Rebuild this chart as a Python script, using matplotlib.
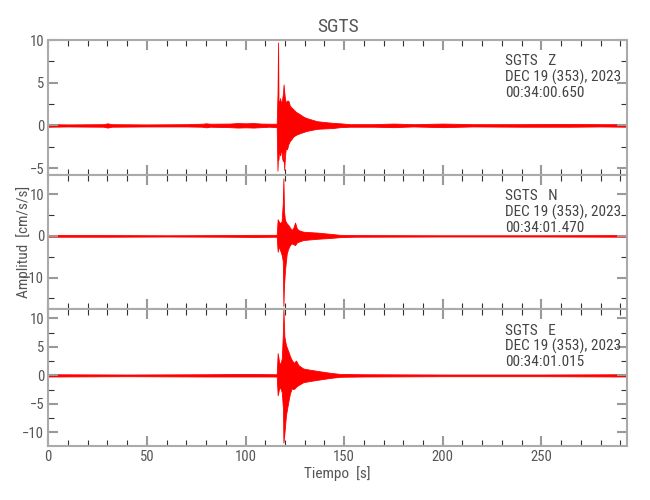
import matplotlib
matplotlib.use("Agg")
import matplotlib.pyplot as plt
import numpy as np
from matplotlib import font_manager
from matplotlib.ticker import MultipleLocator

# envelope of each trace: (time [s], min, max)
z_rows = [
    (0, -0.15, 0.15), (10, -0.12, 0.12), (28, -0.15, 0.15), (30, -0.25, 0.25),
    (32, -0.15, 0.15), (50, -0.12, 0.12), (70, -0.12, 0.15), (78, -0.15, 0.2),
    (80, -0.22, 0.25), (82, -0.15, 0.2), (92, -0.2, 0.22), (96, -0.25, 0.28),
    (100, -0.22, 0.25), (104, -0.25, 0.28), (108, -0.2, 0.22), (112, -0.15, 0.2),
    (115.8, -0.2, 0.2), (116.2, -5.3, 3.6), (116.5, -3.0, 9.7), (116.7, -4.0, 3.0),
    (117.0, -2.8, 2.5), (117.5, -3.5, 3.2), (118.0, -2.6, 2.6), (118.5, -3.8, 3.0),
    (119.0, -4.2, 3.8), (119.3, -2.8, 4.8), (119.6, -5.2, 4.0), (120.0, -3.6, 3.1),
    (120.5, -2.5, 2.6), (121.0, -2.8, 2.9), (121.7, -2.2, 2.9), (122.5, -1.8, 2.3),
    (123.3, -1.6, 2.1), (124.2, -1.3, 1.9), (125.5, -1.1, 1.6), (127.6, -0.9, 1.3),
    (129.5, -0.75, 1.0), (131.8, -0.6, 0.8), (134.0, -0.5, 0.65), (136.1, -0.4, 0.5),
    (140, -0.35, 0.4), (144.4, -0.3, 0.3), (148, -0.2, 0.25), (152.8, -0.15, 0.15),
    (165, -0.15, 0.15), (175, -0.2, 0.22), (185, -0.12, 0.15), (200, -0.2, 0.22),
    (215, -0.12, 0.15), (240, -0.15, 0.15), (265, -0.15, 0.18), (280, -0.12, 0.15),
    (293, -0.15, 0.15),
]
n_rows = [
    (0, -0.2, 0.2), (30, -0.2, 0.2), (60, -0.15, 0.15), (90, -0.2, 0.2),
    (105, -0.25, 0.25), (115.8, -0.2, 0.25), (116.3, -3.8, 4.0), (116.8, -2.5, 3.5),
    (117.5, -3.4, 3.0), (118.3, -4.5, 3.5), (118.9, -6.0, 8.0), (119.2, -16.8, 13.8),
    (119.5, -12.0, 6.0), (120.0, -8.2, 3.8), (120.9, -4.2, 3.0), (121.7, -3.0, 2.6),
    (122.5, -2.2, 2.0), (123.4, -1.8, 1.4), (124.3, -2.0, 2.0), (125.1, -2.2, 3.2),
    (126.0, -1.6, 1.8), (126.8, -1.4, 1.4), (129.3, -1.0, 1.0), (132.5, -0.85, 0.9),
    (136.1, -0.7, 0.8), (142.9, -0.5, 0.5), (148, -0.3, 0.25), (155, -0.2, 0.2),
    (200, -0.15, 0.15), (250, -0.15, 0.15), (293, -0.2, 0.2),
]
e_rows = [
    (0, -0.2, 0.2), (40, -0.15, 0.15), (80, -0.2, 0.2), (100, -0.2, 0.25),
    (115.8, -0.2, 0.2), (116.3, -3.5, 3.9), (116.9, -2.5, 2.6), (117.5, -2.0, 1.8),
    (118.4, -3.0, 3.0), (119.0, -6.0, 8.0), (119.2, -11.8, 11.6), (119.7, -10.2, 6.8),
    (120.5, -7.0, 5.3), (121.7, -4.6, 4.2), (122.5, -3.2, 3.4), (123.4, -2.3, 2.7),
    (124.5, -2.4, 2.2), (125.6, -2.0, 2.6), (126.8, -1.7, 1.8), (129.3, -1.2, 1.2),
    (132.5, -1.0, 1.0), (136.1, -0.8, 0.8), (142.9, -0.45, 0.45), (148, -0.25, 0.25),
    (160, -0.2, 0.2), (200, -0.15, 0.15), (250, -0.15, 0.15), (293, -0.2, 0.2),
]

components = ["Z", "N", "E"]
start_times = ["00:34:00.650", "00:34:01.470", "00:34:01.015"]
ylims = [(-5.8, 10), (-17.6, 14.6), (-12.4, 11.6)]
ymajor = [5, 10, 5]
station = "SGTS"
date_str = "DEC 19 (353), 2023"
t_end = 293.4


def pick_font():
    for name in ["Liberation Sans Narrow", "DejaVu Sans Condensed",
                 "Roboto Condensed", "Open Sans Condensed"]:
        try:
            font_manager.findfont(name, fallback_to_default=False)
            return name, True
        except Exception:
            pass
    return "DejaVu Sans", False


fam, narrow = pick_font()
plt.rcParams["font.family"] = [fam, "DejaVu Sans"]
sz = 1.0 if narrow else 0.82
grey_txt = "#555555"
frame = "#aaaaaa"

fig = plt.figure(figsize=(6.5, 5), dpi=100)
left, width = 0.0743, 0.8903
bounds = [(0.650, 0.920), (0.3814, 0.650), (0.108, 0.3814)]

for i, rows in enumerate([z_rows, n_rows, e_rows]):
    b, t = bounds[i]
    ax = fig.add_axes([left, b, width, t - b])
    arr = np.array(rows)
    tt, lo, hi = arr[:, 0], arr[:, 1], arr[:, 2]
    ax.fill_between(tt, lo, hi, color="red", lw=0.6, edgecolor="red")

    ax.set_xlim(0, t_end)
    ax.set_ylim(*ylims[i])
    ax.xaxis.set_major_locator(MultipleLocator(50))
    ax.xaxis.set_minor_locator(MultipleLocator(10))
    ax.yaxis.set_major_locator(MultipleLocator(ymajor[i]))
    ax.yaxis.set_minor_locator(MultipleLocator(ymajor[i] / 2))
    ax.tick_params(which="both", direction="in", top=True, right=True,
                   labelsize=10.5 * sz, labelcolor=grey_txt, pad=3)
    ax.tick_params(which="major", length=7, width=1.5, color="#999999")
    ax.tick_params(which="minor", length=4, width=0.8, color="#333333")
    for s in ax.spines.values():
        s.set_color(frame)
        s.set_linewidth(1.5)
    if i < 2:
        ax.tick_params(labelbottom=False)
    else:
        ax.set_xlabel("Tiempo  [s]", color=grey_txt, fontsize=11 * sz, labelpad=1)
    if i == 1:
        ax.set_ylabel("Amplitud  [cm/s/s]", color=grey_txt, fontsize=11 * sz)
        ax.yaxis.set_label_coords(-0.03, 0.5)
    if i == 0:
        ax.set_title(station, color=grey_txt, fontsize=14 * sz, pad=6)

    label = f"{station}   {components[i]}\n{date_str}\n{start_times[i]}"
    ax.text(0.790, 0.895, label, transform=ax.transAxes, va="top", ha="left",
            fontsize=11 * sz, color="#444444", linespacing=1.1)

fig.savefig("out.png", dpi=100)
